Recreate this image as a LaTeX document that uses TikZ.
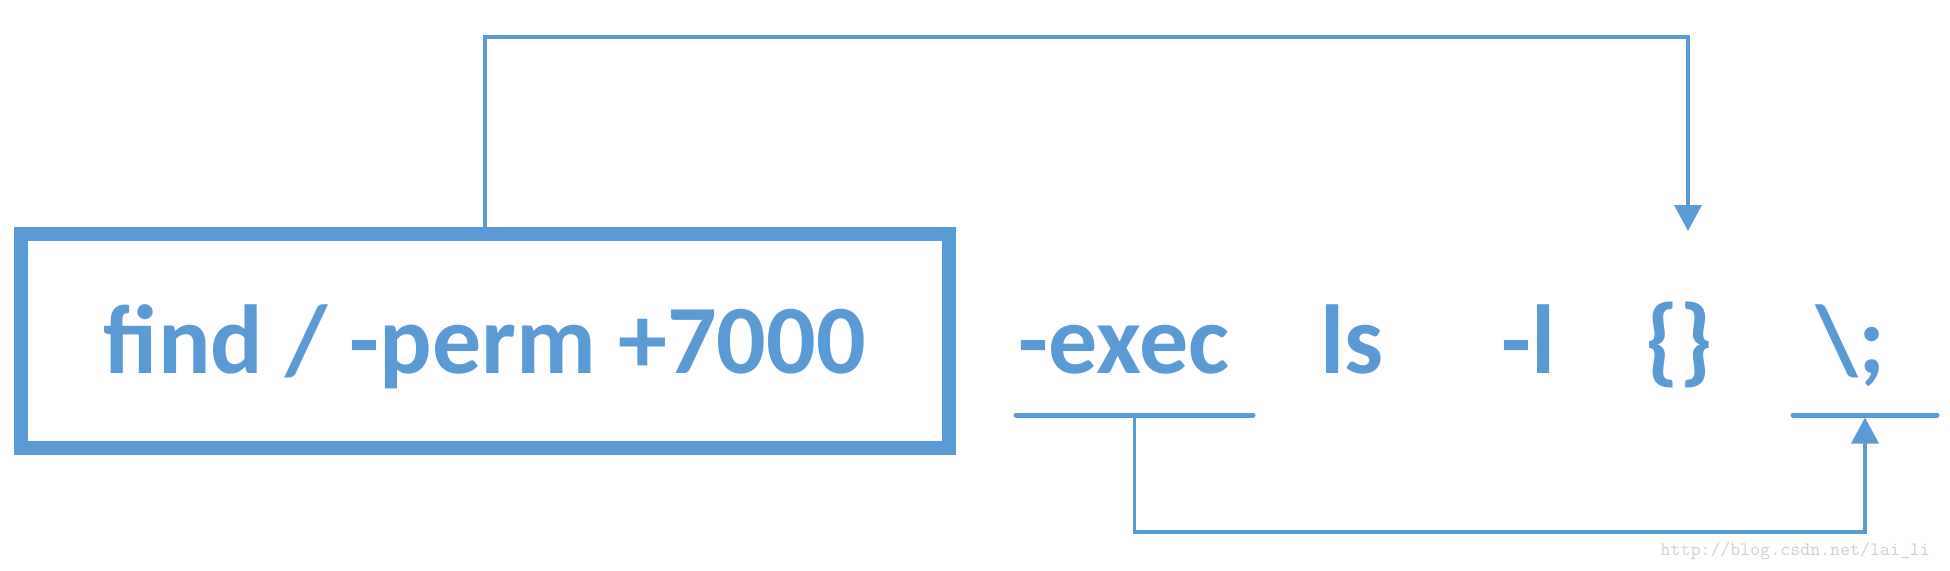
\documentclass[tikz,border=0pt]{standalone}
\usepackage{fontspec}
\setmainfont{Carlito}
\usetikzlibrary{arrows.meta,calc}
\definecolor{cmdblue}{HTML}{5B9BD5}

\begin{document}
\begin{tikzpicture}[x=0.5pt, y=-0.5pt,
	every node/.style={text=cmdblue, font=\fontsize{49}{58}\selectfont\bfseries},
	cmdbox/.style={draw=cmdblue, line width=7pt, minimum width=464pt, minimum height=107.25pt,
		text height=36pt, text depth=4pt, inner sep=0pt},
	word/.style={anchor=base},
	bar/.style={draw=cmdblue, line width=2.5pt, line cap=round},
	link/.style={draw=cmdblue, line width=1.8pt, -{Triangle[length=13pt, width=13.5pt]}}]
	\useasboundingbox (0,0) rectangle (1950,570);
	
	\node[cmdbox] (findbox) at (485,341) {find / -perm +7000};
	\node[word] (exec) at (1124,373) {-exec};
	\node[word] (ls) at (1352,373) {ls};
	\node[word] (optl) at (1529,373) {-l};
	\node[word] (braces) at (1679,373) {\{\}};
	\node[word] (semi) at (1851,373) {\textbackslash;};
	
	\draw[bar] (1016,415) -- coordinate (execmid) (1253,415);
	\draw[bar] (1793,415) -- coordinate (semimid) (1937,415);
	
	\coordinate (topright) at (1688,37);
	\coordinate (bracestip) at (1688,231);
	\draw[link] (findbox.north) |- (topright) -- (bracestip);
	\draw[link] (execmid) -- ++(0,117) -| ([yshift=-1.25pt]semimid);
	
	\node[anchor=base east, text=gray!35, font=\ttfamily\fontsize{9.5}{11}\selectfont] (url) at (1937,555) {http://blog.csdn.net/lai\_li};
\end{tikzpicture}
\end{document}
